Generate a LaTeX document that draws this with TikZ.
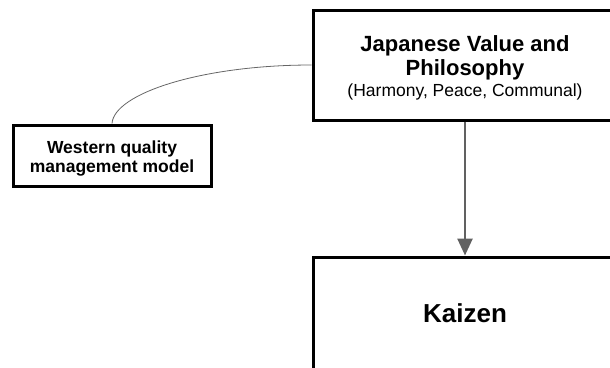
\documentclass[tikz,border=0pt]{standalone}
\usepackage{fontspec}
\setmainfont{Liberation Sans}
\usetikzlibrary{arrows.meta}
\begin{document}
\begin{tikzpicture}[x=1pt,y=-1pt,
  box/.style={draw=black, line width=3pt, fill=white, align=center, inner sep=0pt},
  curveline/.style={draw=black!60, line width=0.8pt},
  arrowline/.style={draw=black!62, line width=2.6pt, -{Triangle[width=15pt,length=17pt]}}]
\useasboundingbox (0,0) rectangle (610,367);
\node[box, minimum width=304pt, minimum height=110pt] (j) at (465,65)
  {\fontsize{22}{23}\selectfont\bfseries\rule{0pt}{22pt}Japanese Value and\\[2.5pt]
   \fontsize{22}{23}\selectfont\bfseries Philosophy\\[3pt]
   \fontsize{17.5}{22}\selectfont (Harmony, Peace, Communal)};
\node[box, minimum width=198pt, minimum height=61pt] (w) at (112,155.5)
  {\fontsize{17.5}{18.5}\selectfont\bfseries\rule{0pt}{19pt}Western quality\\[1pt]
   \fontsize{17.5}{18.5}\selectfont\bfseries management model};
\node[box, minimum width=304pt, minimum height=112pt] (k) at (465,313)
  {\fontsize{26}{28}\selectfont\bfseries Kaizen};
\draw[curveline] (w.north) .. controls +(2,-30) and +(-110,0) .. (j.west);
\draw[arrowline] (j.south) -- (k.north);
\end{tikzpicture}
\end{document}
